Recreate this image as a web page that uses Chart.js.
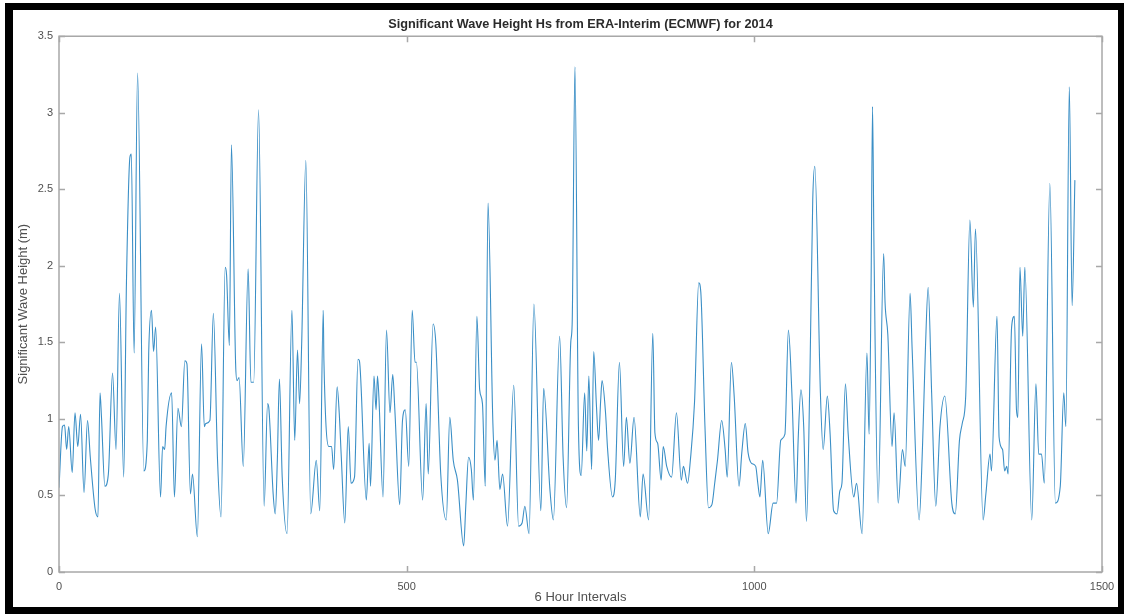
<!DOCTYPE html>
<html>
<head>
<meta charset="utf-8">
<script src="https://cdn.jsdelivr.net/npm/chart.js@4.4.1/dist/chart.umd.min.js"></script>
<style>
  html, body { margin: 0; padding: 0; background: #fff; }
  #wrap { position: relative; width: 1124px; height: 614px; overflow: hidden; }
  #hsChart { position: absolute; left: 0; top: 0; }
  #frame {
    position: absolute; left: 5px; top: 3px; right: 0; bottom: 0;
    border-style: solid; border-color: #000;
    border-width: 7px 6px 7px 8px;
    pointer-events: none;
  }
</style>
</head>
<body>
<div id="wrap">
  <canvas id="hsChart" width="1124" height="614"></canvas>
  <div id="frame"></div>
</div>
<script>
// 6-hourly time step index (2014)
const steps = [
  0, 5, 8, 11, 14, 19, 23, 27, 31, 36, 41, 45, 52, 56, 59, 61, 66, 71, 77, 82,
  87, 93, 97, 102, 104, 108, 113, 122, 127, 129, 133, 136, 139, 146, 149, 152, 154, 162, 166, 171,
  176, 181, 184, 189, 192, 199, 205, 209, 211, 217, 222, 228, 233, 239, 241, 245, 248, 254, 256, 259,
  265, 272, 276, 280, 287, 295, 300, 302, 308, 311, 314, 317, 321, 328, 335, 339, 343, 346, 349, 355,
  362, 370, 375, 380, 381, 388, 392, 395, 400, 403, 406, 411, 416, 420, 425, 430, 432, 442, 446, 448,
  453, 456, 458, 460, 466, 471, 476, 480, 483, 490, 494, 498, 503, 508, 512, 514, 523, 528, 531, 538,
  542, 549, 557, 562, 567, 573, 582, 585, 589, 593, 596, 601, 605, 609, 613, 617, 624, 627, 630, 634,
  638, 645, 654, 661, 666, 670, 676, 683, 693, 697, 706, 711, 720, 725, 730, 736, 738, 742, 747, 751,
  756, 759, 762, 766, 769, 773, 776, 779, 781, 786, 789, 796, 800, 806, 812, 816, 821, 827, 836, 840,
  848, 854, 857, 861, 866, 869, 874, 881, 888, 895, 898, 904, 908, 914, 920, 923, 929, 934, 939, 943,
  947, 953, 958, 961, 967, 971, 978, 982, 987, 991, 996, 1002, 1005, 1008, 1012, 1020, 1027, 1032, 1038, 1044,
  1049, 1054, 1060, 1063, 1067, 1071, 1075, 1080, 1084, 1087, 1095, 1099, 1105, 1109, 1114, 1119, 1123, 1126, 1131, 1135,
  1143, 1147, 1155, 1162, 1165, 1168, 1170, 1172, 1178, 1186, 1188, 1192, 1198, 1201, 1207, 1213, 1217, 1224, 1227, 1237,
  1242, 1246, 1250, 1255, 1261, 1267, 1274, 1284, 1289, 1295, 1299, 1304, 1310, 1315, 1318, 1329, 1333, 1339, 1341, 1349,
  1352, 1357, 1360, 1363, 1365, 1370, 1374, 1377, 1379, 1382, 1386, 1389, 1399, 1405, 1409, 1413, 1417, 1425, 1433, 1440,
  1445, 1448, 1453, 1457, 1461
];

// significant wave height Hs (m)
const hs = [
  0.55, 0.95, 0.96, 0.80, 0.95, 0.65, 1.04, 0.82, 1.03, 0.52, 0.99, 0.75, 0.41, 0.36, 1.17, 1.02, 0.56, 0.64, 1.30, 0.80,
  1.82, 0.62, 1.89, 2.71, 2.73, 1.43, 3.26, 0.66, 0.86, 1.43, 1.71, 1.44, 1.60, 0.49, 0.82, 0.80, 0.95, 1.17, 0.49, 1.07,
  0.95, 1.38, 1.36, 0.51, 0.64, 0.23, 1.49, 0.95, 0.97, 0.99, 1.69, 0.73, 0.36, 1.99, 1.94, 1.48, 2.79, 1.36, 1.25, 1.27,
  0.69, 1.98, 1.24, 1.24, 3.02, 0.43, 1.10, 1.06, 0.51, 0.38, 0.73, 1.26, 0.62, 0.25, 1.71, 0.86, 1.45, 1.10, 1.49, 2.69,
  0.38, 0.73, 0.40, 1.71, 1.38, 0.82, 0.82, 0.67, 1.21, 1.04, 0.75, 0.32, 0.95, 0.58, 0.62, 1.39, 1.38, 0.47, 0.84, 0.56,
  1.28, 1.06, 1.28, 1.15, 0.49, 1.58, 1.04, 1.29, 1.06, 0.44, 0.99, 1.06, 0.69, 1.71, 1.37, 1.37, 0.47, 1.10, 0.64, 1.62,
  1.49, 0.64, 0.34, 1.01, 0.73, 0.60, 0.17, 0.43, 0.75, 0.67, 0.47, 1.67, 1.19, 1.10, 0.56, 2.41, 0.97, 0.73, 0.86, 0.54,
  0.64, 0.30, 1.22, 0.30, 0.32, 0.43, 0.25, 1.75, 0.40, 1.20, 0.54, 0.34, 1.54, 0.75, 0.42, 1.50, 1.62, 3.30, 0.95, 0.63,
  1.17, 0.79, 1.28, 0.67, 1.44, 1.08, 0.86, 1.12, 1.25, 1.04, 0.80, 0.49, 0.60, 1.37, 0.69, 1.01, 0.71, 1.01, 0.36, 0.64,
  0.34, 1.56, 0.91, 0.84, 0.60, 0.82, 0.69, 0.62, 1.04, 0.60, 0.69, 0.58, 0.73, 1.11, 1.89, 1.83, 0.95, 0.42, 0.44, 0.58,
  0.73, 0.99, 0.80, 0.62, 1.37, 1.15, 0.56, 0.78, 0.97, 0.78, 0.71, 0.69, 0.58, 0.49, 0.73, 0.25, 0.45, 0.45, 0.86, 0.90,
  1.58, 1.17, 0.45, 0.86, 1.19, 0.95, 0.33, 1.30, 2.43, 2.65, 1.17, 0.80, 1.15, 0.90, 0.40, 0.38, 0.53, 0.58, 1.23, 0.90,
  0.49, 0.58, 0.25, 1.43, 0.90, 1.93, 3.04, 2.15, 0.45, 2.08, 1.76, 1.55, 0.82, 1.04, 0.45, 0.80, 0.69, 1.82, 1.45, 0.34,
  0.84, 1.45, 1.86, 1.17, 0.43, 0.95, 1.15, 0.45, 0.38, 0.86, 0.97, 1.15, 2.30, 1.73, 2.24, 0.34, 0.51, 0.77, 0.66, 1.67,
  0.88, 0.80, 0.66, 0.69, 0.64, 1.60, 1.67, 1.06, 1.01, 1.99, 1.54, 1.99, 0.34, 1.23, 0.77, 0.77, 0.58, 2.54, 0.45, 0.56,
  1.17, 0.95, 3.17, 1.74, 2.56
];

const xTicks = [0, 500, 1000, 1500];
const yTicks = [0, 0.5, 1, 1.5, 2, 2.5, 3, 3.5];

const axisGrey = '#a8a8a8';
const labelGrey = '#505050';
const fontFamily = 'Liberation Sans, Arial, sans-serif';

// axes box with inward tick marks on all four sides
const axesBox = {
  id: 'axesBox',
  afterDatasetsDraw(chart) {
    const { ctx, chartArea: a, scales: { x, y } } = chart;
    const len = 6;
    ctx.save();
    ctx.strokeStyle = axisGrey;
    ctx.lineWidth = 1.5;
    ctx.strokeRect(a.left, a.top, a.right - a.left, a.bottom - a.top);
    ctx.beginPath();
    xTicks.forEach(v => {
      const px = Math.round(x.getPixelForValue(v)) + 0.5;
      ctx.moveTo(px, a.bottom); ctx.lineTo(px, a.bottom - len);
      ctx.moveTo(px, a.top); ctx.lineTo(px, a.top + len);
    });
    yTicks.forEach(v => {
      const py = Math.round(y.getPixelForValue(v)) + 0.5;
      ctx.moveTo(a.left, py); ctx.lineTo(a.left + len, py);
      ctx.moveTo(a.right, py); ctx.lineTo(a.right - len, py);
    });
    ctx.stroke();
    ctx.restore();
  }
};

const ctx = document.getElementById('hsChart').getContext('2d');
new Chart(ctx, {
  type: 'line',
  data: {
    datasets: [{
      data: steps.map((s, i) => ({ x: s, y: hs[i] })),
      borderColor: '#3b8fc6',
      borderWidth: 1.1,
      pointRadius: 0,
      fill: false,
      cubicInterpolationMode: 'monotone'
    }]
  },
  options: {
    responsive: false,
    animation: false,
    events: [],
    layout: { padding: { left: 0, right: 22, top: 0, bottom: 0 } },
    plugins: {
      legend: { display: false },
      tooltip: { enabled: false },
      title: {
        display: true,
        fullSize: false,
        text: 'Significant Wave Height Hs from ERA-Interim (ECMWF) for 2014',
        color: '#2b2b2b',
        font: { family: fontFamily, size: 12.7, weight: 'bold' },
        padding: { top: 17, bottom: 4 }
      }
    },
    scales: {
      x: {
        type: 'linear',
        min: 0,
        max: 1500,
        afterBuildTicks: s => { s.ticks = xTicks.map(v => ({ value: v })); },
        afterFit: s => { s.height = 42; },
        grid: { display: false, drawTicks: false },
        border: { display: false },
        ticks: {
          color: labelGrey,
          padding: 8,
          maxRotation: 0,
          font: { family: fontFamily, size: 11 },
          callback: v => String(v)
        },
        title: {
          display: true,
          text: '6 Hour Intervals',
          color: labelGrey,
          font: { family: fontFamily, size: 13 },
          padding: { top: 0, bottom: 9 }
        }
      },
      y: {
        min: 0,
        max: 3.5,
        afterBuildTicks: s => { s.ticks = yTicks.map(v => ({ value: v })); },
        afterFit: s => { s.width = 59; },
        grid: { display: false, drawTicks: false },
        border: { display: false },
        ticks: {
          color: labelGrey,
          padding: 6,
          font: { family: fontFamily, size: 11 },
          callback: v => String(v)
        },
        title: {
          display: true,
          text: 'Significant Wave Height (m)',
          color: labelGrey,
          font: { family: fontFamily, size: 13 },
          padding: { top: 16, bottom: 0 }
        }
      }
    }
  },
  plugins: [axesBox]
});
</script>
</body>
</html>
